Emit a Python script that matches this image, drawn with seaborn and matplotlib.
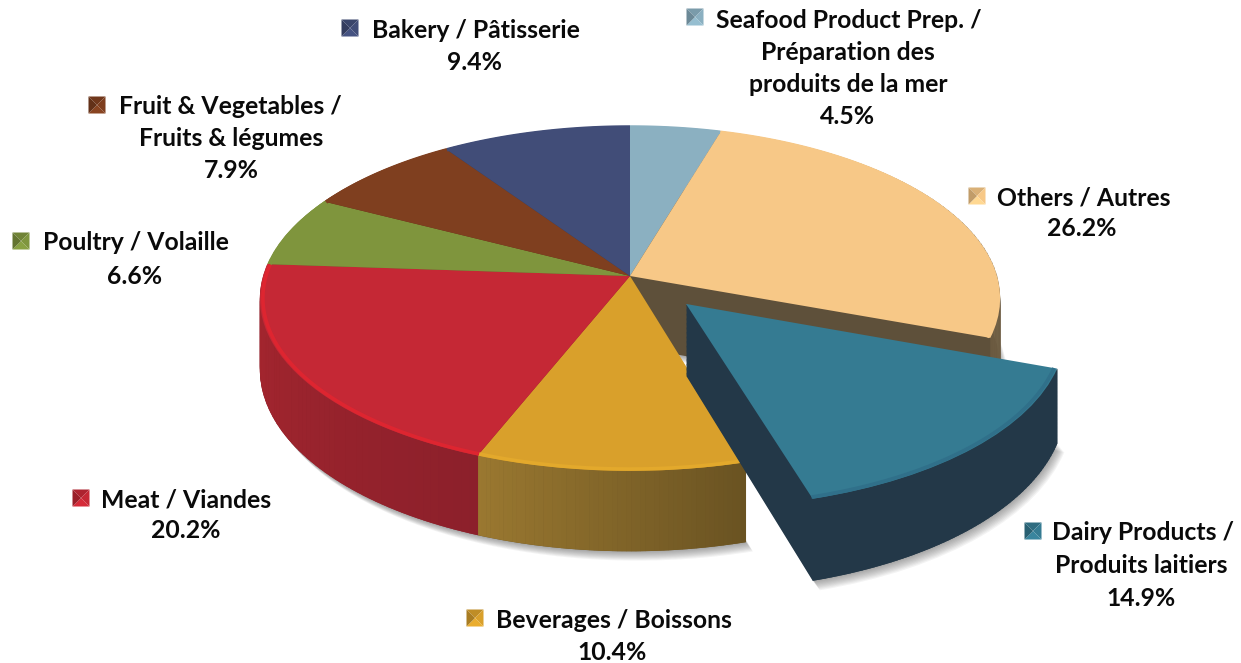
import numpy as np
import matplotlib
matplotlib.use("Agg")
import matplotlib.pyplot as plt
import matplotlib.transforms as mtransforms
from matplotlib.collections import PolyCollection
from matplotlib.colors import to_rgb
import seaborn as sns

# ---- data (clockwise from 12 o'clock) ----
categories = ["Seafood", "Others", "Dairy", "Beverages", "Meat", "Poultry", "Fruit", "Bakery"]
shares = [4.5, 26.2, 14.9, 10.4, 20.2, 6.6, 7.9, 9.4]
explode = [0, 0, 0.22, 0, 0, 0, 0, 0]
top_colors = ["#8bb0c1", "#f7c887", "#357b92", "#d9a02b", "#c52835", "#7f953d", "#7f3f1f", "#414d78"]
wall_start = ["#6d8a98", "#6b5a40", "#233848", "#9a7830", "#a9272f", "#5f7030", "#5f3018", "#303a5a"]
wall_end = ["#6d8a98", "#8f7f62", "#233848", "#6a5322", "#8c202b", "#5f7030", "#5f3018", "#303a5a"]
inner_colors = ["#5e503a", "#5e503a", "#233848", "#6a5322", "#8c202b", "#5f7030", "#5f3018", "#303a5a"]
rim_colors = ["#8bb0c1", "#f7c887", "#30708a", "#e3a92c", "#de2530", "#7f953d", "#7f3f1f", "#414d78"]

label_lines = {
    "Bakery": ["Bakery / Pâtisserie", "9.4%"],
    "Seafood": ["Seafood Product Prep. /", "Préparation des", "produits de la mer", "4.5%"],
    "Others": ["Others / Autres", "26.2%"],
    "Dairy": ["Dairy Products /", "Produits laitiers", "14.9%"],
    "Beverages": ["Beverages / Boissons", "10.4%"],
    "Meat": ["Meat / Viandes", "20.2%"],
    "Poultry": ["Poultry / Volaille", "6.6%"],
    "Fruit": ["Fruit & Vegetables /", "Fruits & légumes", "7.9%"],
}
# marker centre, left edge of first line, centre x of other lines, y of first line, line step
label_layout = {
    "Bakery": (350, 28, 372, 475, 30, 32),
    "Seafood": (695, 17, 716, 848, 20, 32),
    "Others": (977, 196, 997, 1082, 198, 31),
    "Dairy": (1033, 531, 1052, 1141, 533, 32.5),
    "Beverages": (475, 618, 496, 612, 620, 32),
    "Meat": (81, 498, 101, 186, 500, 31),
    "Poultry": (21, 241, 43, 135, 243, 33),
    "Fruit": (97, 105, 119, 231, 107, 32),
}

sns.set_theme(style="white")
plt.rcParams["font.family"] = ["Lato", "DejaVu Sans"]

CX, CY, A, B, K, DEPTH = 630.0, 276.0, 367.0, 169.5, 0.13, 70.0


def project(u, v, z=0.0, dx=0.0):
    w = 1 + K * v
    return CX + A * u / w + dx, CY + (-B * v + z) / w


class Perspective(mtransforms.Transform):
    input_dims = output_dims = 2
    is_separable = False
    has_inverse = False

    def __init__(self, z=0.0, dx=0.0):
        super().__init__()
        self.z, self.dx = z, dx

    def transform_non_affine(self, values):
        values = np.asarray(values)
        x, y = project(values[:, 0], values[:, 1], self.z, self.dx)
        return np.column_stack((x, y))


fig = plt.figure(figsize=(12.41, 6.63), dpi=100, facecolor="white")
ax = fig.add_axes([0, 0, 1, 1])
exploded = np.array(explode) > 0


def layer(z, colors, zmain, zexpl, dx=0.0, alpha=None):
    wedges, _ = ax.pie(shares, explode=explode, colors=colors, startangle=90,
                       counterclock=False, radius=1,
                       wedgeprops=dict(linewidth=0, alpha=alpha))
    tr = Perspective(z, dx) + ax.transData
    for wedge, is_exp in zip(wedges, exploded):
        wedge.set_transform(tr)
        wedge.set_zorder(zexpl if is_exp else zmain)
        wedge.set_edgecolor("none")
    return wedges


# soft ground shadow
for k in range(9, 0, -1):
    layer(DEPTH + k * 0.9, ["#303030"] * len(shares), 0.5, 0.5, dx=k * 0.8, alpha=0.055)

# solid extrusion (inner walls)
for z in np.linspace(DEPTH, 1, 56):
    layer(z, inner_colors, 1, 4)

# top faces
tops = layer(0, sns.color_palette(top_colors), 3, 6)

# outer walls and rims, shaded along each arc
for wedge, c0, c1, rim, is_exp in zip(tops, wall_start, wall_end, rim_colors, exploded):
    cu, cv = wedge.center
    th = np.radians(np.linspace(wedge.theta1, wedge.theta2, 60))
    u = cu + wedge.r * np.cos(th)
    v = cv + wedge.r * np.sin(th)
    xt, yt = project(u, v, 0)
    xb, yb = project(u, v, DEPTH)
    polys = [np.array([[xt[i], yt[i]], [xt[i + 1] + 0.4, yt[i + 1]],
                       [xb[i + 1] + 0.4, yb[i + 1]], [xb[i], yb[i]]]) for i in range(len(th) - 1)]
    c0a, c1a = np.array(to_rgb(c0)), np.array(to_rgb(c1))
    cols = [c0a + (c1a - c0a) * t for t in np.linspace(0, 1, len(polys))]
    ax.add_collection(PolyCollection(polys, facecolors=cols, edgecolors="none",
                                     zorder=5 if is_exp else 2))
    xr, yr = project(cu + 0.992 * wedge.r * np.cos(th), cv + 0.992 * wedge.r * np.sin(th), 0)
    ax.plot(xr, yr, color=rim, lw=2.6, solid_capstyle="butt", zorder=6.5 if is_exp else 3.5)

# labels
for cat, col in zip(categories, top_colors):
    mx, my, left, centre, y0, step = label_layout[cat]
    base = np.array(to_rgb(col))
    h = 8.5
    corners = np.array([[mx - h, my - h], [mx + h, my - h], [mx + h, my + h], [mx - h, my + h]])
    mid = np.array([mx, my])
    tris = [[corners[i], corners[(i + 1) % 4], mid] for i in range(4)]
    shade = [0.88, 1.0, 1.08, 0.78]
    ax.add_collection(PolyCollection(tris, facecolors=[np.clip(base * s, 0, 1) for s in shade],
                                     edgecolors="none", zorder=8))
    for i, line in enumerate(label_lines[cat]):
        if i == 0:
            ax.text(left, y0, line, ha="left", va="center", fontsize=17.8,
                    fontweight="bold", color="#0a0a0a", zorder=9)
        else:
            ax.text(centre, y0 + i * step, line, ha="center", va="center", fontsize=17.8,
                    fontweight="bold", color="#0a0a0a", zorder=9)

ax.set_aspect("auto")
ax.set_xlim(0, 1241)
ax.set_ylim(663, 0)
ax.axis("off")
fig.savefig("out.png", dpi=100, facecolor="white")
